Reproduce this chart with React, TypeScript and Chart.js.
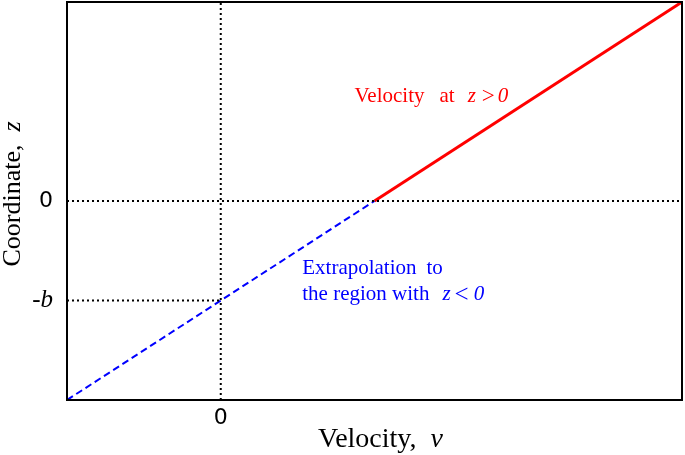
import React, { useEffect, useRef } from "react";
import { Chart, registerables } from "chart.js";

Chart.register(...registerables);

// Axis ranges (data units)
const vRange = [-1, 3];
const zRange = [-2, 2];

// Tick values and labels
const xTickValues = [0];
const xTickLabels = ["0"];
const yTickValues = [-1, 0];
const yTickLabels = ["-b", "0"];

// Velocity profile at z > 0 (solid red)
const measuredV = [1, 3];
const measuredZ = [0, 2];

// Extrapolation to z < 0 (dashed blue)
const extrapV = [-1, 1];
const extrapZ = [-2, 0];

// Dotted guide lines
const guideZeroV = [-1, 3];
const guideZeroZ = [0, 0];
const guideBV = [-1, 0];
const guideBZ = [-1, -1];
const guideVertV = [0, 0];
const guideVertZ = [-2, 2];

const toPts = (xs: number[], ys: number[]) => xs.map((x, i) => ({ x, y: ys[i] }));

const SERIF = "'Liberation Serif', 'Times New Roman', serif";
const SANS = "'DejaVu Sans', Arial, sans-serif";

type Seg = { text: string; italic?: boolean; dx?: number; dy?: number; size?: number };

function drawSegs(ctx: CanvasRenderingContext2D, segs: Seg[], x: number, y: number, size: number, color: string) {
  let cx = x;
  ctx.fillStyle = color;
  ctx.textBaseline = "alphabetic";
  ctx.textAlign = "left";
  for (const s of segs) {
    cx += s.dx || 0;
    ctx.font = `${s.italic ? "italic " : ""}${s.size || size}px ${SERIF}`;
    ctx.fillText(s.text, cx, y + (s.dy || 0));
    cx += ctx.measureText(s.text).width;
  }
}

function segsWidth(ctx: CanvasRenderingContext2D, segs: Seg[], size: number) {
  let w = 0;
  for (const s of segs) {
    w += s.dx || 0;
    ctx.font = `${s.italic ? "italic " : ""}${s.size || size}px ${SERIF}`;
    w += ctx.measureText(s.text).width;
  }
  return w;
}

const overlayPlugin = {
  id: "overlay",
  afterDraw(chart: any) {
    const { ctx, chartArea, scales } = chart;
    const xs = scales.x;
    const ys = scales.y;
    ctx.save();
    // frame
    ctx.strokeStyle = "#000";
    ctx.lineWidth = 2;
    ctx.strokeRect(chartArea.left, chartArea.top, chartArea.right - chartArea.left, chartArea.bottom - chartArea.top);

    // x-axis title
    const xt: Seg[] = [{ text: "Velocity,  " }, { text: "v", italic: true }];
    const xw = segsWidth(ctx, xt, 28);
    const xc = (chartArea.left + chartArea.right) / 2 + 6;
    drawSegs(ctx, xt, xc - xw / 2, 447, 28, "#000");

    // y-axis title
    const yt: Seg[] = [{ text: "Coordinate,  " }, { text: "z", italic: true }];
    const yw = segsWidth(ctx, yt, 26);
    ctx.save();
    ctx.translate(20, 194);
    ctx.rotate(-Math.PI / 2);
    drawSegs(ctx, yt, -yw / 2, 0, 26, "#000");
    ctx.restore();

    // annotations
    const redSegs: Seg[] = [
      { text: "Velocity" },
      { text: "at", dx: 15 },
      { text: "z", italic: true, dx: 13 },
      { text: ">", dx: 6, size: 23, dy: 1 },
      { text: "0", italic: true, dx: 3 },
    ];
    drawSegs(ctx, redSegs, xs.getPixelForValue(0.87), ys.getPixelForValue(0.99), 21, "#ff0000");

    const blue1: Seg[] = [{ text: "Extrapolation" }, { text: "to", dx: 10 }];
    const blue2: Seg[] = [
      { text: "the region with" },
      { text: "z", italic: true, dx: 13 },
      { text: "<", dx: 4, size: 25, dy: 2 },
      { text: "0", italic: true, dx: 5 },
    ];
    const bx = xs.getPixelForValue(0.53);
    drawSegs(ctx, blue1, bx, ys.getPixelForValue(-0.73), 21, "#0000ff");
    drawSegs(ctx, blue2, bx, ys.getPixelForValue(-0.99), 21, "#0000ff");
    ctx.restore();
  },
};

export default function App() {
  const ref = useRef<HTMLCanvasElement | null>(null);
  useEffect(() => {
    document.body.style.margin = "0";
    if (!ref.current) return;
    const dotted = {
      borderColor: "#000",
      borderWidth: 2,
      borderDash: [2, 3],
      pointRadius: 0,
      fill: false,
    };
    const chart = new Chart(ref.current, {
      type: "line",
      data: {
        datasets: [
          { ...dotted, label: "z=0", data: toPts(guideZeroV, guideZeroZ) },
          { ...dotted, label: "z=-b", data: toPts(guideBV, guideBZ) },
          { ...dotted, label: "v=0", data: toPts(guideVertV, guideVertZ) },
          {
            label: "extrapolation",
            data: toPts(extrapV, extrapZ),
            borderColor: "#0000ff",
            borderWidth: 2,
            borderDash: [7, 4],
            pointRadius: 0,
            fill: false,
          },
          {
            label: "velocity",
            data: toPts(measuredV, measuredZ),
            borderColor: "#ff0000",
            borderWidth: 3,
            pointRadius: 0,
            fill: false,
          },
        ],
      },
      options: {
        animation: false,
        responsive: false,
        maintainAspectRatio: false,
        layout: { padding: { top: 2, right: 3, left: 0, bottom: 0 } },
        plugins: { legend: { display: false }, tooltip: { enabled: false } },
        scales: {
          x: {
            type: "linear",
            min: vRange[0],
            max: vRange[1],
            grid: { display: false, drawTicks: false, tickLength: 0 },
            border: { display: false },
            afterBuildTicks: (s: any) => {
              s.ticks = xTickValues.map((v) => ({ value: v }));
            },
            afterFit: (s: any) => {
              s.height = 55;
              s.paddingLeft = 0;
              s.paddingRight = 0;
            },
            ticks: {
              autoSkip: false,
              maxRotation: 0,
              padding: 5,
              color: "#000",
              font: { family: SANS, size: 22 },
              callback: (v: any) => {
                const i = xTickValues.indexOf(Number(v));
                return i >= 0 ? xTickLabels[i] : "";
              },
            },
          },
          y: {
            type: "linear",
            min: zRange[0],
            max: zRange[1],
            grid: { display: false, drawTicks: false, tickLength: 0 },
            border: { display: false },
            afterBuildTicks: (s: any) => {
              s.ticks = yTickValues.map((v) => ({ value: v }));
            },
            afterFit: (s: any) => {
              s.width = 67;
              s.paddingTop = 0;
              s.paddingBottom = 0;
            },
            ticks: {
              autoSkip: false,
              padding: 14,
              color: "#000",
              font: (c: any) =>
                c.tick && c.tick.value === -1
                  ? { family: SERIF, size: 25, style: "italic" }
                  : { family: SANS, size: 22 },
              callback: (v: any) => {
                const i = yTickValues.indexOf(Number(v));
                return i >= 0 ? yTickLabels[i] : "";
              },
            },
          },
        },
      },
      plugins: [overlayPlugin],
    } as any);
    return () => chart.destroy();
  }, []);
  return (
    <div style={{ position: "relative", width: 685, height: 455, background: "#fff" }}>
      <canvas ref={ref} width={685} height={455} style={{ width: 685, height: 455, display: "block" }} />
    </div>
  );
}
